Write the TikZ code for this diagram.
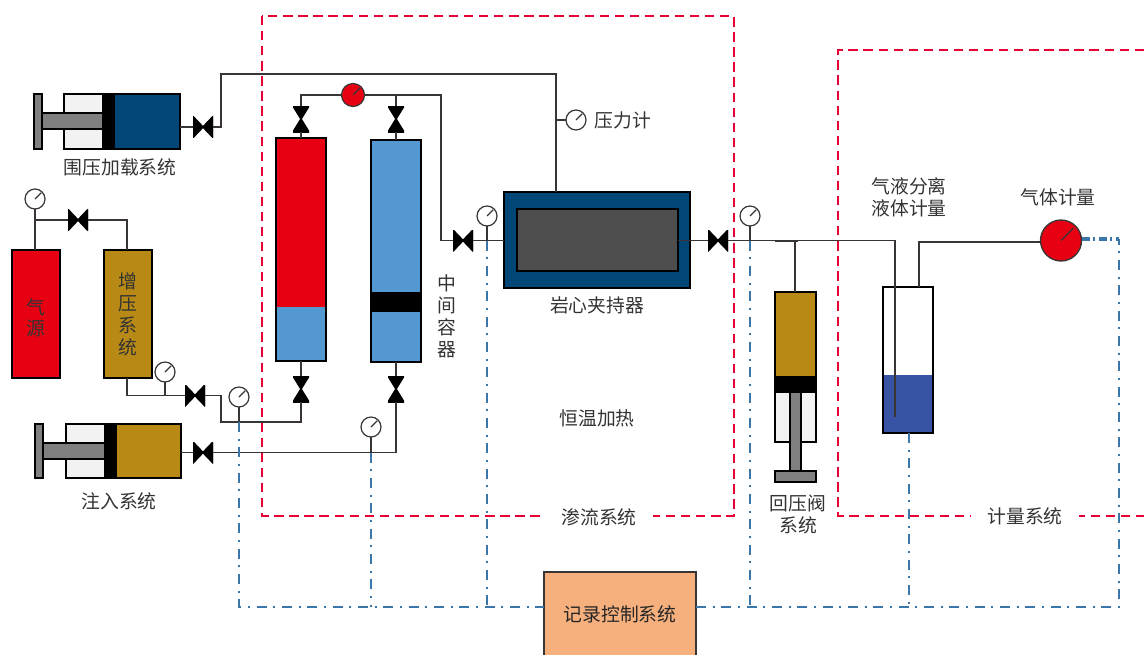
\documentclass[tikz,border=0pt]{standalone}
\usepackage{fontspec}
\setmainfont{Noto Sans CJK SC}
\usetikzlibrary{calc}
\definecolor{pipe}{HTML}{3A3535}
\definecolor{oxred}{HTML}{E60012}
\definecolor{navy}{HTML}{004676}
\definecolor{sky}{HTML}{5498D2}
\definecolor{gold}{HTML}{B88A15}
\definecolor{steel}{HTML}{808080}
\definecolor{pale}{HTML}{F2F2F2}
\definecolor{core}{HTML}{4D4E4D}
\definecolor{liquid}{HTML}{3953A4}
\definecolor{peach}{HTML}{F6B07E}
\definecolor{ctrlblue}{HTML}{3A76A8}
\definecolor{zonered}{HTML}{E60033}
\tikzset{
    sz/.style 2 args={minimum width=#1*0.75pt, minimum height=#2*0.75pt},
    part/.style={rectangle, draw=black, line width=1.8pt, fill=#1, inner sep=0pt, outer sep=0pt},
    lab/.style={inner sep=1pt, text=black!80, font=\fontsize{14.1}{16.5}\selectfont, align=center},
    valve/.style={rectangle, inner sep=0pt, outer sep=0pt, sz={20}{21}, path picture={
        \filldraw[black, line width=1.2pt] (path picture bounding box.north west) -- (path picture bounding box.south east)
            -- (path picture bounding box.north east) -- (path picture bounding box.south west) -- cycle;}},
    vvalve/.style={rectangle, inner sep=0pt, outer sep=0pt, sz={16}{26}, path picture={
        \filldraw[black, line width=1.2pt] (path picture bounding box.north west) -- (path picture bounding box.north east)
            -- (path picture bounding box.south west) -- (path picture bounding box.south east) -- cycle;}},
    gauge/.style={circle, draw=pipe, line width=0.9pt, fill=#1, inner sep=0pt, outer sep=0pt, minimum size=20*0.75pt, path picture={
        \draw[pipe, line width=0.9pt] (path picture bounding box.center)
            -- ($(path picture bounding box.center)!0.62!(path picture bounding box.north east)$);}},
    gauge/.default=white,
    pipeline/.style={draw=pipe, line width=1pt},
    ctrl/.style={draw=ctrlblue, line width=1.5pt, dash pattern=on 7.5pt off 5pt on 1.5pt off 5pt},
    zone/.style={draw=zonered, line width=2pt, dash pattern=on 7pt off 4.3pt},
}
\begin{document}
\begin{tikzpicture}[x=0.75pt, y=-0.75pt]
            \useasboundingbox (0,0) rectangle (1144,654);

            % confining pressure pump
            \node[part=pale, sz={39}{55}] (loadcyl) at (83.5,121.5) {};
            \node[part=steel, sz={61}{16}] (loadrod) at (72.5,121) {};
            \node[part=steel, sz={8}{55}] (loadplate) at (38,121.5) {};
            \node[part=black, sz={11}{55}] (loadpiston) at (108.5,121.5) {};
            \node[part=navy, sz={66}{55}] (loadbody) at (147,121.5) {};
            \node[valve] (loadvalve) at (203,127) {};

            % gas source and booster
            \node[part=oxred, sz={48}{128}] (gas) at (36,314) {};
            \node[part=gold, sz={48}{128}, lab, text=black!80] (booster) at (128,314) {增\\压\\系\\统};
            \node[gauge] (gasgauge) at (35,199) {};
            \node[valve] (gasvalve) at (78,220) {};
            \node[gauge] (boostgauge) at (165,372) {};
            \node[valve] (boostvalve) at (195,395.5) {};
            \node[gauge] (feedgauge) at (239,397) {};

            % injection pump
            \node[part=pale, sz={39}{54}] (injcyl) at (85.5,451) {};
            \node[part=steel, sz={62}{16}] (injrod) at (74,451) {};
            \node[part=steel, sz={8}{54}] (injplate) at (39,451) {};
            \node[part=black, sz={11}{54}] (injpiston) at (110.5,451) {};
            \node[part=gold, sz={65}{54}] (injbody) at (148.5,451) {};
            \node[valve] (injvalve) at (203,452.5) {};
            \node[gauge] (injgauge) at (371,427) {};

            % intermediate vessels
            \node[part=oxred, sz={50}{223}] (redvessel) at (301,249.5) {};
            \node[fill=sky, inner sep=0pt, outer sep=0pt, sz={48.5}{53}] (redwater) at (301,333.5) {};
            \node[part=sky, sz={50}{222}] (bluevessel) at (396,251) {};
            \node[fill=black, inner sep=0pt, outer sep=0pt, sz={50}{20}] (blueband) at (396,302) {};
            \node[vvalve] (redtop) at (301,119) {};
            \node[vvalve] (bluetop) at (396,119) {};
            \node[vvalve] (redbot) at (301,389) {};
            \node[vvalve] (bluebot) at (396,389) {};
            \node[gauge=oxred, minimum size=23*0.75pt] (topgauge) at (353,95) {};

            % core holder
            \node[part=navy, sz={186}{96}] (holder) at (597,240) {};
            \node[part=core, sz={161}{62}] (corebox) at (597.5,240) {};
            \node[valve] (invalve) at (463,240.5) {};
            \node[valve] (outvalve) at (718,240.5) {};
            \node[gauge] (ingauge) at (487,216) {};
            \node[gauge] (outgauge) at (750,216) {};
            \node[gauge] (holdgauge) at (576,120) {};

            % back pressure valve
            \node[part=pale, sz={41}{50}] (backcyl) at (795.5,417) {};
            \node[part=steel, sz={11}{80}] (backrod) at (795.5,432) {};
            \node[part=steel, sz={41}{11}] (backfoot) at (795.5,476.5) {};
            \node[part=gold, sz={41}{85}] (backbody) at (795.5,334.5) {};
            \node[fill=black, inner sep=0pt, outer sep=0pt, sz={43}{15}] (backpiston) at (795.5,384.5) {};

            % separator and gas meter
            \node[fill=liquid, inner sep=0pt, outer sep=0pt, sz={50}{58}] (sepliquid) at (908,404) {};
            \node[rectangle, draw=black, line width=1.3pt, inner sep=0pt, outer sep=0pt, sz={50}{146}] (separator) at (908,360) {};
            \node[gauge=oxred, minimum size=41*0.75pt, line width=1pt] (gasmeter) at (1061,240.5) {};

            % recorder
            \node[rectangle, draw=pipe, line width=0.8pt, fill=peach, inner sep=0pt, outer sep=0pt, sz={152}{84}, lab, text=black!85] (recorder) at (620,614) {记录控制系统};

            % junctions
            \coordinate (holdtop) at (556,74);
            \coordinate (holdtee) at (556,120);
            \coordinate (loadup) at (221,127);
            \coordinate (loadcorner) at (221,74);
            \coordinate (gastee) at (35,220);
            \coordinate (boostcorner) at (127,220);
            \coordinate (boostdown) at (127,395.5);
            \coordinate (boosttee) at (165,395.5);
            \coordinate (feedcorner) at (221,395.5);
            \coordinate (feedlow) at (221,422);
            \coordinate (feedtee) at (239,422);
            \coordinate (feedend) at (301,422);
            \coordinate (injtee) at (371,452.5);
            \coordinate (injend) at (396,452.5);
            \coordinate (redcorner) at (301,95);
            \coordinate (bluetee) at (396,95);
            \coordinate (linecorner) at (441,95);
            \coordinate (linelow) at (441,240.5);
            \coordinate (intee) at (487,240.5);
            \coordinate (outtee) at (750,240.5);
            \coordinate (backstart) at (775,240.5);
            \coordinate (backtee) at (795,240.5);
            \coordinate (backend) at (798,240.5);
            \coordinate (sepcorner) at (895,240.5);
            \coordinate (diptube) at (895,417);
            \coordinate (ventlow) at (919,287);
            \coordinate (ventup) at (919,242);

            \draw[pipeline] (loadbody.east |- loadvalve) -- (loadvalve);
            \draw[pipeline] (loadvalve) -- (loadup) -- (loadcorner) -- (holdtop) -- (holdtop |- holder.north);
            \draw[pipeline] (holdtee) -- (holdgauge);
            \draw[pipeline] (gasgauge) -- (gasgauge |- gas.north);
            \draw[pipeline] (gastee) -- (gasvalve);
            \draw[pipeline] (gasvalve) -- (boostcorner) -- (boostcorner |- booster.north);
            \draw[pipeline] (boostcorner |- booster.south) -- (boostdown) -- (boostvalve);
            \draw[pipeline] (boostgauge) -- (boosttee);
            \draw[pipeline] (boostvalve) -- (feedcorner) -- (feedlow) -- (feedend) -- (redbot);
            \draw[pipeline] (feedgauge) -- (feedtee);
            \draw[pipeline] (injbody.east |- injvalve) -- (injvalve);
            \draw[pipeline] (injvalve) -- (injend) -- (bluebot);
            \draw[pipeline] (injgauge) -- (injtee);
            \draw[pipeline] (redbot) -- (redvessel);
            \draw[pipeline] (bluebot) -- (bluevessel);
            \draw[pipeline] (redtop) -- (redvessel);
            \draw[pipeline] (bluetop) -- (bluevessel);
            \draw[pipeline] (redtop) -- (redcorner) -- (topgauge);
            \draw[pipeline] (topgauge) -- (linecorner) -- (linelow) -- (invalve);
            \draw[pipeline] (bluetee) -- (bluetop);
            \draw[pipeline] (invalve) -- (holder.west |- invalve);
            \draw[pipeline] (ingauge) -- (intee);
            \draw[pipeline] (corebox.east |- outvalve) -- (outvalve);
            \draw[pipeline] (outvalve) -- (sepcorner) -- (diptube);
            \draw[pipeline, line width=1.5pt] (backstart) -- (backend);
            \draw[pipeline] (outgauge) -- (outtee);
            \draw[pipeline] (backtee) -- (backtee |- backbody.north);
            \draw[pipeline] (ventlow) -- (ventup) -- (gasmeter.west |- ventup);

            % control lines
            \coordinate (busa) at (239,607);
            \coordinate (busb) at (371,607);
            \coordinate (busc) at (487,607);
            \coordinate (busd) at (750,607);
            \coordinate (buse) at (909,607);
            \coordinate (busf) at (1119,607);
            \coordinate (meterout) at (1119,239);
            \draw[ctrl] (feedtee) -- (busa) -- (recorder.west |- busa);
            \draw[ctrl] (injtee) -- (busb);
            \draw[ctrl] (intee) -- (busc);
            \draw[ctrl] (outtee) -- (busd);
            \draw[ctrl] (buse |- separator.south) -- (buse);
            \draw[ctrl] (recorder.east |- busf) -- (busf) -- (meterout);
            \draw[draw=ctrlblue, line width=2.4pt, dash pattern=on 6pt off 2.5pt on 1.5pt off 2.8pt] (gasmeter.east |- meterout) -- (meterout);

            % zones
            \coordinate (seepnw) at (262,16);
            \coordinate (seepse) at (734,516);
            \coordinate (meternw) at (838,50);
            \coordinate (metertop) at (1144,50);
            \coordinate (meterbot) at (1144,516);
            \draw[zone] (seepnw) rectangle (seepse);
            \draw[zone] (metertop) -- (meternw) -- (meternw |- meterbot) -- (meterbot);

            % labels
            \node[lab] (gaslabel) at (36,318) {气\\[-1pt]源};
            \node[lab] (loadlabel) at (120,167) {围压加载系统};
            \node[lab] (injlabel) at (119,501) {注入系统};
            \node[lab] (holdlabel) at (623,120) {压力计};
            \node[lab] (vessellabel) at (447,316) {中\\间\\容\\器};
            \node[lab] (holderlabel) at (597,305) {岩心夹持器};
            \node[lab] (heatlabel) at (597,418.5) {恒温加热};
            \node[lab] (backlabel) at (798,514.5) {回压阀\\系统};
            \node[lab] (seplabel) at (909,197) {气液分离\\液体计量};
            \node[lab] (meterlabel) at (1058,197) {气体计量};
            \node[lab, fill=white, inner xsep=12pt] (seeplabel) at (599,517) {渗流系统};
            \node[lab, fill=white, inner xsep=12pt] (meterzone) at (1025,516) {计量系统};
        \end{tikzpicture}
\end{document}
